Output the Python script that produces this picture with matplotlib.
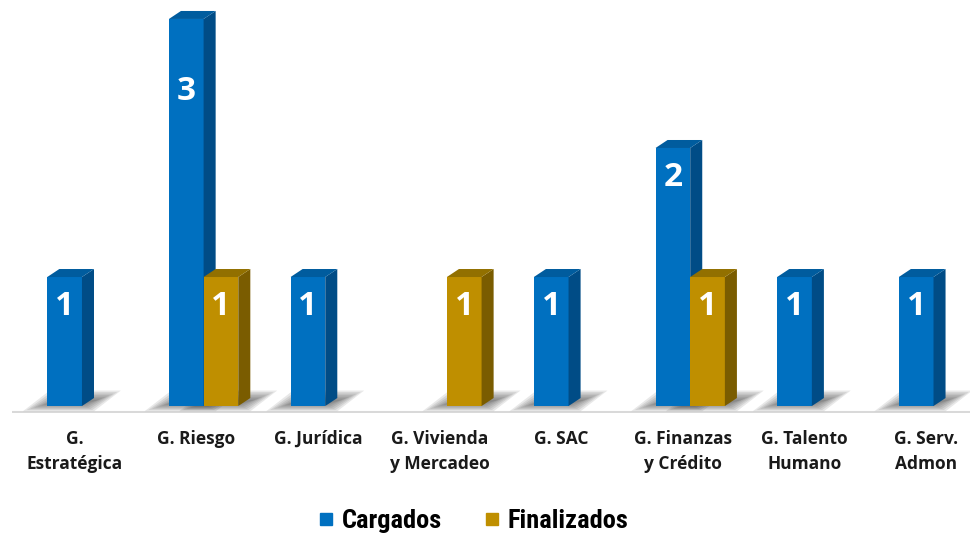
import numpy as np
import matplotlib
matplotlib.use("Agg")
import matplotlib.pyplot as plt
from matplotlib.patches import Polygon
from matplotlib.lines import Line2D

categorias = ["G.\nEstratégica", "G. Riesgo", "G. Jurídica", "G. Vivienda\ny Mercadeo",
              "G. SAC", "G. Finanzas\ny Crédito", "G. Talento\nHumano", "G. Serv.\nAdmon"]
cargados = [1, 3, 1, 0, 1, 2, 1, 1]
finalizados = [0, 1, 0, 1, 0, 1, 0, 0]

# colores: frente, lado, tapa
azul = ("#0070C0", "#004C86", "#005C9E")
oro = ("#BF8F00", "#7A5C00", "#927000")

fig = plt.figure(figsize=(9.74, 5.37), dpi=100)
ax = fig.add_axes([12 / 974, 124 / 537, 958 / 974, 413 / 537])

W = 0.285      # ancho de barra
DX, DY = 0.099, 0.062   # profundidad 3d
x = np.arange(len(categorias))


def barra3d(xl, v, col):
    # sombra en el piso
    for k in range(7):
        e = 0.03 * k
        sh = Polygon([(xl - 0.2 + e, -0.04 + e * 0.3), (xl + W + 0.1 - e * 0.5, -0.04 + e * 0.3),
                      (xl + W + 0.32 - e, 0.12 - e * 0.4), (xl + 0.02 + e * 0.5, 0.12 - e * 0.4)],
                     closed=True, facecolor="#303030", alpha=0.11, lw=0, zorder=1)
        ax.add_patch(sh)
    ax.bar(xl, v, W, align="edge", color=col[0], zorder=3, linewidth=0)
    lado = Polygon([(xl + W, 0), (xl + W + DX, DY), (xl + W + DX, v + DY), (xl + W, v)],
                   closed=True, facecolor=col[1], lw=0, zorder=3)
    tapa = Polygon([(xl, v), (xl + W, v), (xl + W + DX, v + DY), (xl + DX, v + DY)],
                   closed=True, facecolor=col[2], lw=0, zorder=3)
    ax.add_patch(lado)
    ax.add_patch(tapa)
    ax.text(xl + W / 2, min(v - 0.23, 2.44), str(v), ha="center", va="center",
            color="white", fontsize=24, fontweight="bold", family="Open Sans", zorder=5)


for i in x:
    if cargados[i] > 0:
        barra3d(i - W, cargados[i], azul)
    if finalizados[i] > 0:
        barra3d(i, finalizados[i], oro)

ax.set_xlim(-0.575, 7.30)
ax.set_ylim(-0.054, 3.147)
ax.axhline(-0.05, color="#D9D9D9", lw=1.5, zorder=0)

ax.set_xticks(x - 0.06)
ax.set_xticklabels(categorias, fontsize=12.5, fontweight="bold", family="Open Sans",
                   color="#1a1a1a", linespacing=1.55)
ax.tick_params(axis="x", length=0, pad=12)
ax.set_yticks([])
for s in ax.spines.values():
    s.set_visible(False)

handles = [Line2D([], [], marker="s", ls="", color=azul[0], markersize=9),
           Line2D([], [], marker="s", ls="", color=oro[0], markersize=9)]
fig.legend(handles, ["Cargados", "Finalizados"], loc="center", bbox_to_anchor=(0.486, 0.03),
           ncol=2, frameon=False, handlelength=0.6, handletextpad=0.3, columnspacing=1.6,
           prop={"family": ["Roboto Condensed", "Roboto"], "weight": "bold", "size": 19})

fig.savefig("out.png", dpi=100)
